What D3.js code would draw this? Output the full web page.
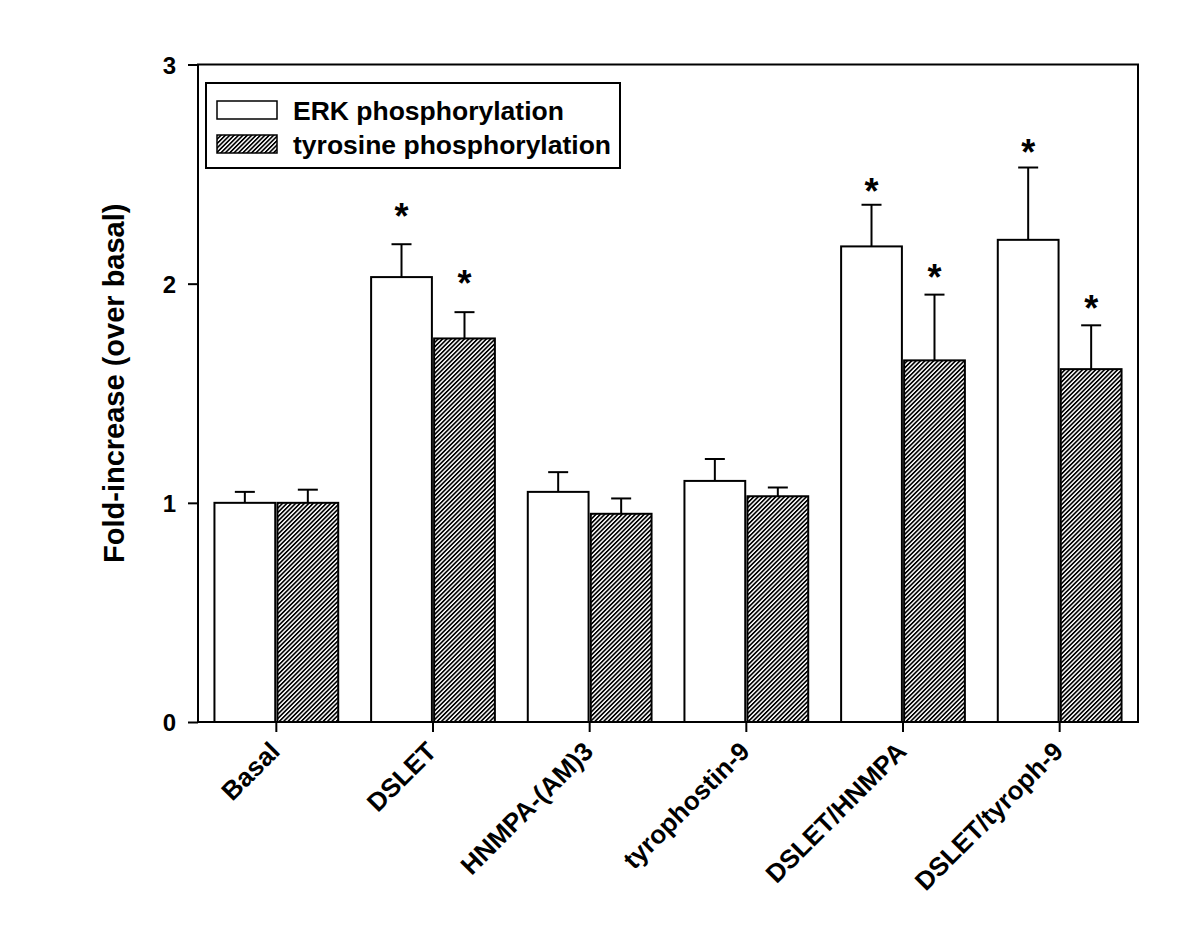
<!DOCTYPE html>
<html>
<head>
<meta charset="utf-8">
<script src="https://cdn.jsdelivr.net/npm/d3@7"></script>
<style>
  html, body { margin: 0; padding: 0; background: #fff; }
  svg { display: block; }
  text { font-family: "Liberation Sans", Arial, Helvetica, sans-serif; font-weight: bold; fill: #000; }
</style>
</head>
<body>
<svg id="chart" width="1200" height="927"></svg>
<script>
// ---- data ----
const categories = ["Basal", "DSLET", "HNMPA-(AM)3", "tyrophostin-9", "DSLET/HNMPA", "DSLET/tyroph-9"];
const seriesNames = ["ERK phosphorylation", "tyrosine phosphorylation"];
const erkValues = [1.00, 2.03, 1.05, 1.10, 2.17, 2.20];
const erkErrors = [0.05, 0.15, 0.09, 0.10, 0.19, 0.33];
const tyrValues = [1.00, 1.75, 0.95, 1.03, 1.65, 1.61];
const tyrErrors = [0.06, 0.12, 0.07, 0.04, 0.30, 0.20];
// significance markers: [category index, series index, y position in data units]
const asterisks = [
  [1, 0, 2.32], [1, 1, 2.01],
  [4, 0, 2.43], [4, 1, 2.04],
  [5, 0, 2.61], [5, 1, 1.90]
];
const yTicks = [0, 1, 2, 3];
const yLabel = "Fold-increase (over basal)";

(function () {
// ---- layout ----
const svg = d3.select("#chart");
const mLeft = 198, mRight = 1138, mTop = 64.5, mBottom = 722;

const x = d3.scaleBand().domain(categories).range([mLeft, mRight]).paddingInner(0.21).paddingOuter(0.105);
const xs = d3.scaleBand().domain([0, 1]).range([0, x.bandwidth()]).paddingInner(0.035);
const y = d3.scaleLinear().domain([0, 3]).range([mBottom, mTop]);

// hatch pattern
const defs = svg.append("defs");
defs.append("pattern")
  .attr("id", "hatch")
  .attr("patternUnits", "userSpaceOnUse")
  .attr("width", 3.1).attr("height", 10)
  .attr("patternTransform", "rotate(45)")
  .append("line")
  .attr("x1", 0.8).attr("y1", 0).attr("x2", 0.8).attr("y2", 10)
  .attr("stroke", "#000").attr("stroke-width", 1.7);

const fills = ["#fff", "url(#hatch)"];

const data = [];
categories.forEach((c, i) => {
  data.push({ cat: c, s: 0, v: erkValues[i], e: erkErrors[i] });
  data.push({ cat: c, s: 1, v: tyrValues[i], e: tyrErrors[i] });
});

// error bars
const eb = svg.append("g").attr("stroke", "#000").attr("stroke-width", 2).attr("fill", "none");
data.forEach(d => {
  const cx = x(d.cat) + xs(d.s) + xs.bandwidth() / 2;
  eb.append("line").attr("x1", cx).attr("x2", cx).attr("y1", y(d.v)).attr("y2", y(d.v + d.e));
  eb.append("line").attr("x1", cx - 10).attr("x2", cx + 10).attr("y1", y(d.v + d.e)).attr("y2", y(d.v + d.e));
});

// bars
svg.append("g").selectAll("rect").data(data).join("rect")
  .attr("x", d => x(d.cat) + xs(d.s))
  .attr("width", xs.bandwidth())
  .attr("y", d => y(d.v))
  .attr("height", d => y(0) - y(d.v))
  .attr("fill", d => fills[d.s])
  .attr("stroke", "#000")
  .attr("stroke-width", 2);

// asterisks
svg.append("g").selectAll("text").data(asterisks).join("text")
  .attr("x", d => x(categories[d[0]]) + xs(d[1]) + xs.bandwidth() / 2)
  .attr("y", d => y(d[2]) + 15)
  .attr("text-anchor", "middle")
  .style("font-size", "36px")
  .text("*");

// frame
svg.append("rect")
  .attr("x", mLeft).attr("y", mTop)
  .attr("width", mRight - mLeft).attr("height", mBottom - mTop)
  .attr("fill", "none").attr("stroke", "#000").attr("stroke-width", 2);

// y axis
const yAxis = svg.append("g")
  .attr("transform", `translate(${mLeft},0)`)
  .call(d3.axisLeft(y).tickValues(yTicks).tickFormat(d3.format("d")).tickSize(10).tickPadding(12));
yAxis.attr("font-size", null).attr("font-family", null);
yAxis.select(".domain").remove();
yAxis.selectAll(".tick line").attr("stroke", "#000").attr("stroke-width", 2);
yAxis.selectAll(".tick text").style("font-size", "24px").attr("dy", "0.36em");

// x axis
const xAxis = svg.append("g")
  .attr("transform", `translate(0,${mBottom})`)
  .call(d3.axisBottom(x).tickSize(10).tickPadding(0));
xAxis.attr("font-size", null).attr("font-family", null);
xAxis.select(".domain").remove();
xAxis.selectAll(".tick line").attr("stroke", "#000").attr("stroke-width", 2);
xAxis.selectAll(".tick text")
  .style("font-size", "26px")
  .attr("text-anchor", "end")
  .attr("dy", null)
  .attr("y", 0)
  .attr("transform", "translate(5,31) rotate(-45)");

// y label
svg.append("text")
  .attr("transform", `translate(124,${(mTop + mBottom) / 2 - 10}) rotate(-90)`)
  .attr("text-anchor", "middle")
  .style("font-size", "29px")
  .text(yLabel);

// legend
const lg = svg.append("g");
lg.append("rect").attr("x", 206).attr("y", 83).attr("width", 414).attr("height", 85)
  .attr("fill", "#fff").attr("stroke", "#000").attr("stroke-width", 2);
seriesNames.forEach((name, i) => {
  const yy = 101 + i * 34;
  lg.append("rect").attr("x", 217).attr("y", yy).attr("width", 60).attr("height", 18)
    .attr("fill", fills[i]).attr("stroke", "#000").attr("stroke-width", 1.5);
  lg.append("text").attr("x", 293).attr("y", yy + 18.5).style("font-size", "26.5px").text(name);
});
})();
</script>
</body>
</html>
